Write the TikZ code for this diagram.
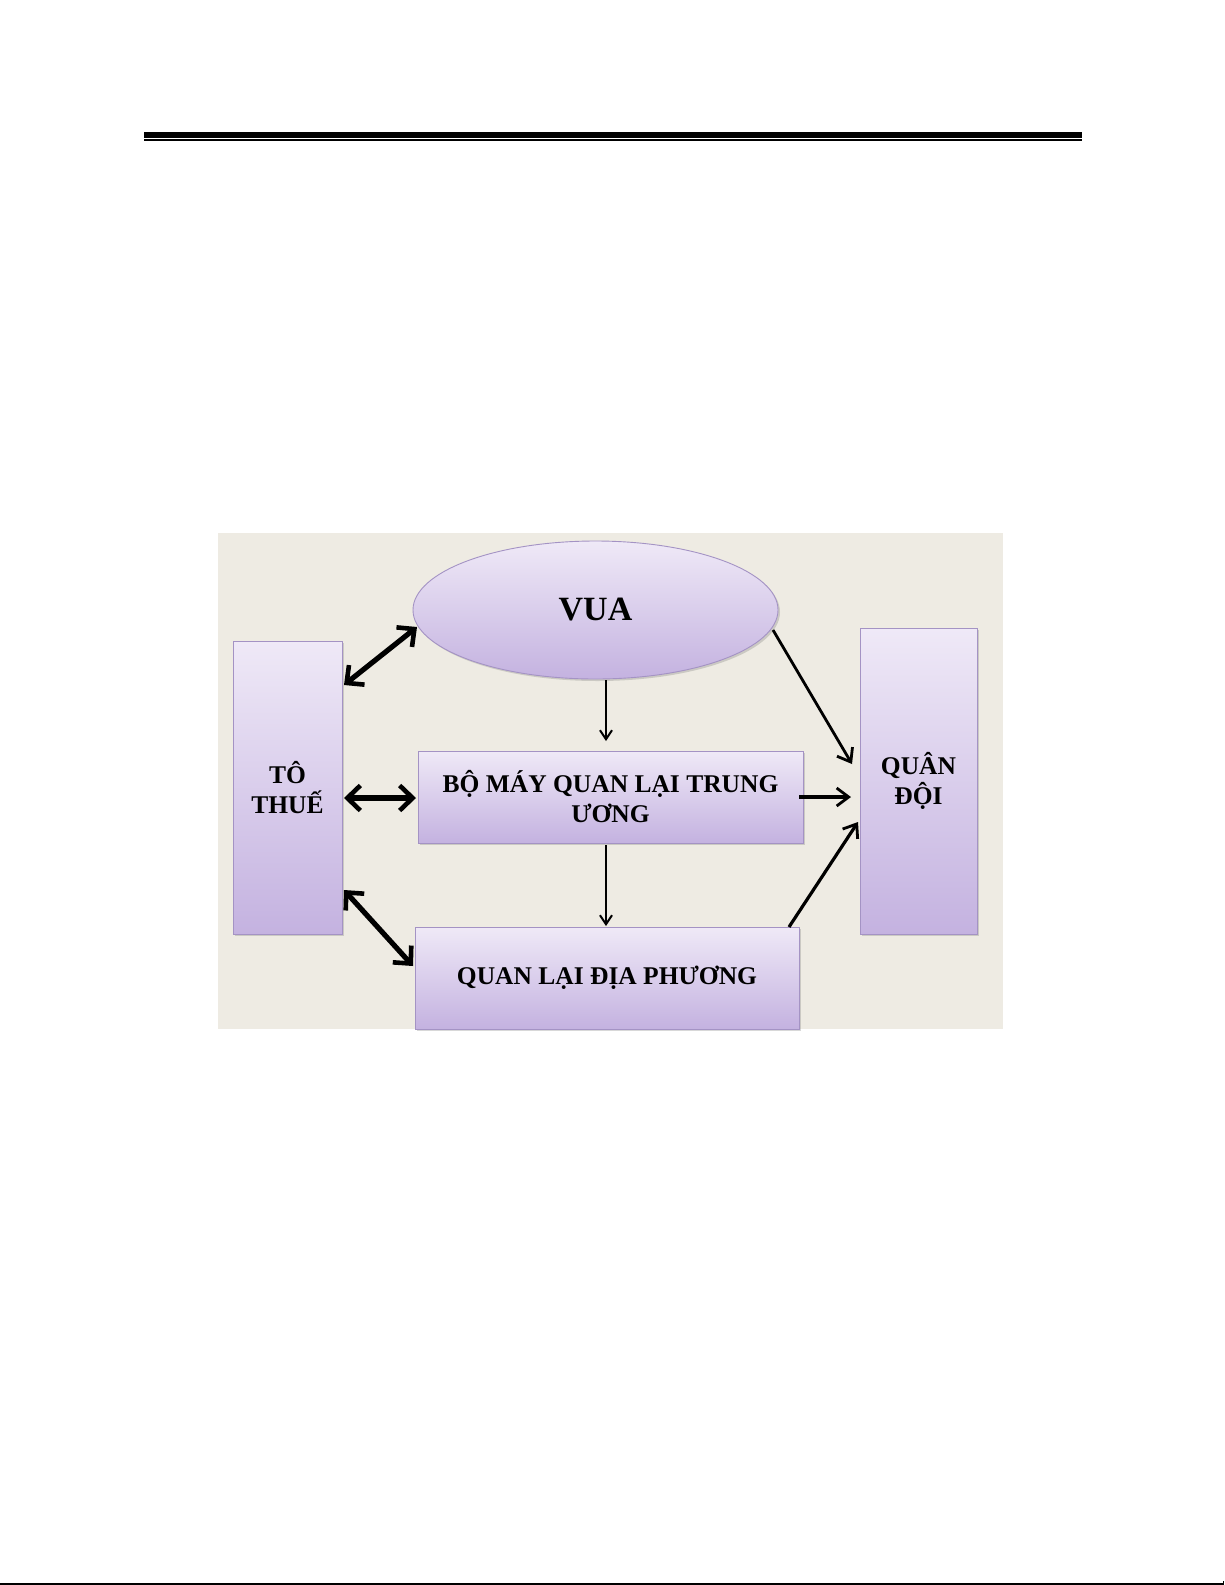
\documentclass[tikz,border=0pt]{standalone}
\usepackage{fontspec}
\setmainfont{Liberation Serif}
\usetikzlibrary{arrows.meta,shapes.geometric,shadows}
\definecolor{bgc}{HTML}{EEEBE3}
\definecolor{boxtop}{HTML}{EFE9F7}
\definecolor{boxbot}{HTML}{C4B2E0}
\definecolor{boxline}{HTML}{A493C4}
\tikzset{
  panel/.style={draw=boxline, line width=0.9pt, top color=boxtop, bottom color=boxbot,
    drop shadow={shadow xshift=2pt, shadow yshift=-2pt, opacity=0.25, fill=black!60},
    font=\fontsize{25.5}{30}\selectfont\bfseries, align=center, inner sep=0pt},
  thinarrow/.style={line width=2pt, -{Straight Barb[length=9pt,width=12pt,line width=2pt]}},
  midarrow/.style={line width=2.8pt, -{Straight Barb[length=12pt,width=18pt,line width=2.8pt]}},
  bigarrow/.style={line width=5.2pt, {Straight Barb[length=13pt,width=25pt,line width=4.6pt]}-{Straight Barb[length=13pt,width=25pt,line width=4.6pt]}}
}
\begin{document}
\begin{tikzpicture}[x=1pt,y=-1pt]
\useasboundingbox (0,0) rectangle (1225,1585);
\fill[white] (0,0) rectangle (1225,1585);
% header rules
\fill[black] (144,131.5) rectangle (1082,137.5);
\fill[black] (144,139.3) rectangle (1082,140.8);
% bottom line
\fill[black] (0,1583.3) rectangle (1223,1584.5);
\fill[black] (1222.5,1581) rectangle (1223.5,1584.5);
% diagram background
\fill[bgc] (218,533) rectangle (1003,1029);

\node[panel, minimum width=109pt, minimum height=293pt] (tt) at (287.5,787.5) {TÔ\\THUẾ};
\node[panel, minimum width=117pt, minimum height=306pt] (qd) at (918.5,781) {QUÂN\\ĐỘI};
\node[panel, minimum width=385pt, minimum height=92pt] (bm) at (610.5,797) {BỘ MÁY QUAN LẠI TRUNG\\ƯƠNG};
\node[panel, minimum width=384pt, minimum height=102pt] (dp) at (607,978) {QUAN LẠI ĐỊA PHƯƠNG};
\node[panel, ellipse, minimum width=365pt, minimum height=138pt, font=\fontsize{34}{40}\selectfont\bfseries] (vua) at (595.5,610) {VUA};

% connector end points
\coordinate (a1) at (606,680);
\coordinate (a2) at (606,741);
\coordinate (b1) at (606,845);
\coordinate (b2) at (606,926);
\coordinate (c1) at (417,627);
\coordinate (c2) at (344,685);
\coordinate (d1) at (344,798);
\coordinate (d2) at (416,798);
\coordinate (e1) at (344,890);
\coordinate (e2) at (413,966);
\coordinate (f1) at (773,630);
\coordinate (f2) at (852,764);
\coordinate (g1) at (799,797);
\coordinate (g2) at (851,797);
\coordinate (h1) at (789,927);
\coordinate (h2) at (858,822);

\draw[thinarrow] (a1) -- (a2);
\draw[thinarrow] (b1) -- (b2);
\draw[bigarrow] (c1) -- (c2);
\draw[bigarrow] (d1) -- (d2);
\draw[bigarrow] (e1) -- (e2);
\draw[midarrow, line width=2.8pt] (f1) -- (f2);
\draw[midarrow, line width=3.6pt] (g1) -- (g2);
\draw[midarrow, line width=3.2pt] (h1) -- (h2);
\end{tikzpicture}
\end{document}
